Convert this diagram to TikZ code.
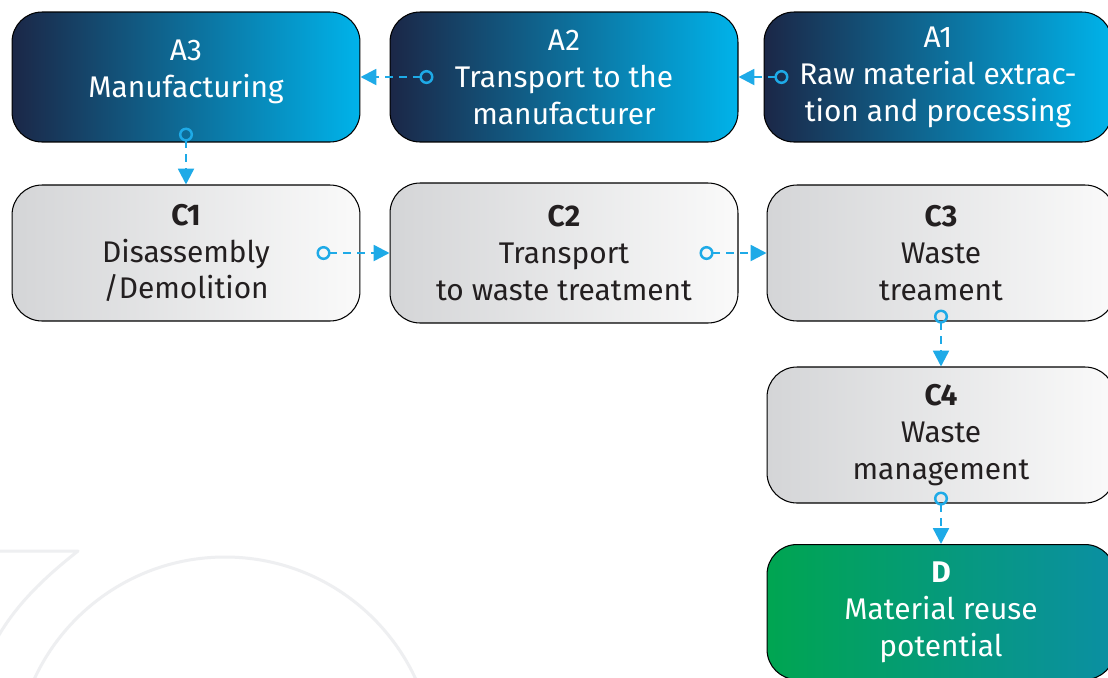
\documentclass[tikz,border=0pt]{standalone}
\usepackage{fontspec}
\setmainfont{Fira Sans}
\usetikzlibrary{arrows.meta}
\definecolor{prodnavy}{HTML}{1B2747}
\definecolor{prodteal}{HTML}{026C8E}
\definecolor{prodcyan}{HTML}{00B3EA}
\definecolor{eolgray}{HTML}{D4D5D7}
\definecolor{eolwhite}{HTML}{FAFAFA}
\definecolor{bengreen}{HTML}{00A551}
\definecolor{benteal}{HTML}{0B8FA3}
\definecolor{flowblue}{HTML}{1EAAE7}
\definecolor{inkgray}{HTML}{231F20}
\definecolor{markgray}{HTML}{EEEFF1}
\begin{document}
\begin{tikzpicture}[x=0.02cm,y=-0.02cm]

    \tikzset{
      phase/.style={
        draw=black,
        line width=0.6pt,
        rounded corners=0.6cm,
        minimum width=6.96cm,
        minimum height=2.6cm,
        inner sep=0pt,
        align=center,
        font=\fontsize{17}{21}\selectfont,
      },
      prod/.style={phase, left color=prodnavy, middle color=prodteal, right color=prodcyan, text=white},
      eol/.style={phase, left color=eolgray, right color=eolwhite, text=inkgray},
      ben/.style={phase, left color=bengreen, right color=benteal, text=white},
      flow/.style={
        draw=flowblue,
        line width=1.4pt,
        dash pattern=on 4.5pt off 3.4pt,
        {Circle[open,length=8pt,width=8pt]}-{Triangle[length=9pt,width=9pt]},
      },
    }
    \useasboundingbox (0,0) rectangle (1108,677);
    \clip (0,0) rectangle (1108,677);
    \fill[white] (0,0) rectangle (1108,677);
    % watermark
    \draw[markgray,line width=0.06cm,line join=round] (-5,551) -- (78,551) .. controls (45,577) and (15,605) .. (-5,642);
    \draw[markgray,line width=0.06cm] (225,767) circle [radius=210];

	\node[prod] (a3) at (186,77) {A3\\Manufacturing\\[-12pt]\mbox{}};
	\node[prod] (a2) at (564,77) {A2\\Transport to the\\manufacturer};
	\node[prod] (a1) at (938,77) {A1\\Raw material extrac-\\tion and processing};

	\node[eol, minimum height=2.72cm] (c1) at (186,253) {\textbf{C1}\\Disassembly\\/Demolition};
	\node[eol, minimum height=2.8cm] (c2) at (564,253) {\textbf{C2}\\Transport\\to waste treatment};
	\node[eol, minimum height=2.72cm] (c3) at (941,253) {\textbf{C3}\\Waste\\treament};
	\node[eol, minimum height=2.72cm] (c4) at (941,435) {\textbf{C4}\\Waste\\management};
	\node[ben, minimum height=2.7cm] (d) at (941,612) {\textbf{D}\\Material reuse\\potential};

	\draw[flow] ([xshift=0.5cm]a1.west) -- (a2.east);
	\draw[flow] ([xshift=0.88cm]a2.west) -- (a3.east);
	\draw[flow] ([yshift=0.3cm]a3.south) -- (c1.north);
	\draw[flow] ([xshift=-0.88cm]c1.east) -- (c2.west);
	\draw[flow] ([xshift=-0.78cm]c2.east) -- (c3.west);
	\draw[flow] ([yshift=0.24cm]c3.south) -- (c4.north);
	\draw[flow] ([yshift=0.24cm]c4.south) -- (d.north);

\end{tikzpicture}
\end{document}
